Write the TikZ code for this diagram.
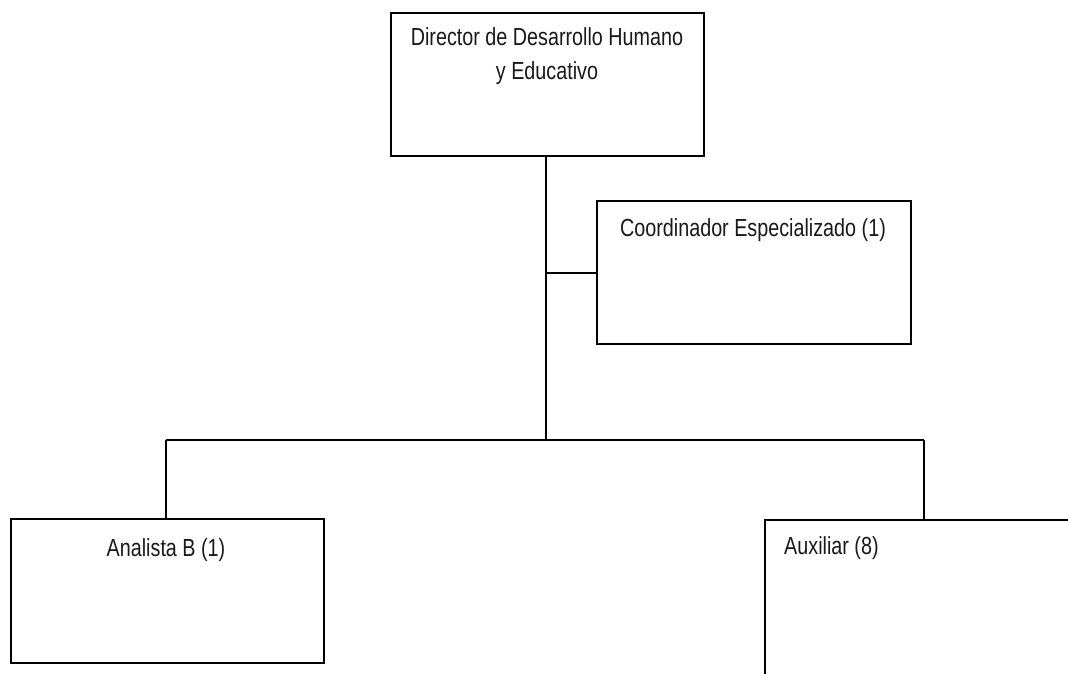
\documentclass[tikz,border=0pt]{standalone}
\usepackage{fontspec}
\setmainfont{Liberation Sans}[FakeStretch=0.8]
\begin{document}
\begin{tikzpicture}[x=1pt,y=-1pt,
  box/.style={draw=black,line width=2pt,rectangle,anchor=north west,inner sep=0pt,minimum width=#1},
  box/.default=313pt,
  lbl/.style={inner sep=0pt,font=\fontsize{24.7}{34}\selectfont,text=black!90},
  wire/.style={draw=black,line width=2pt}]
\useasboundingbox (0,0) rectangle (1068,673);
\clip (0,0) rectangle (1068,673);
\node[box,minimum height=143pt] (dir) at (390,12) {};
\node[box=314pt,minimum height=143pt] (coord) at (596,200) {};
\node[box,minimum height=144pt] (ana) at (10,518) {};
\node[box=330pt,minimum height=180pt] (aux) at (764,519) {};
\node[lbl,anchor=base,align=center] (tdir) at (547,79) {Director de Desarrollo Humano\\y Educativo};
\node[lbl,anchor=base] (tcoord) at (753,236) {Coordinador Especializado (1)};
\node[lbl,anchor=base] (tana) at (166,556) {Analista B (1)};
\node[lbl,anchor=base west] (taux) at (784,554) {Auxiliar (8)};
\coordinate (j) at (546,440);
\coordinate (jl) at (166,440);
\coordinate (jr) at (924,440);
\draw[wire] (dir.south -| j) -- (j);
\draw[wire] (j |- coord.west) -- (coord.west);
\draw[wire] (jl) -- (jr);
\draw[wire] (jl) -- (jl |- ana.north);
\draw[wire] (jr) -- (jr |- aux.north);
\end{tikzpicture}
\end{document}
